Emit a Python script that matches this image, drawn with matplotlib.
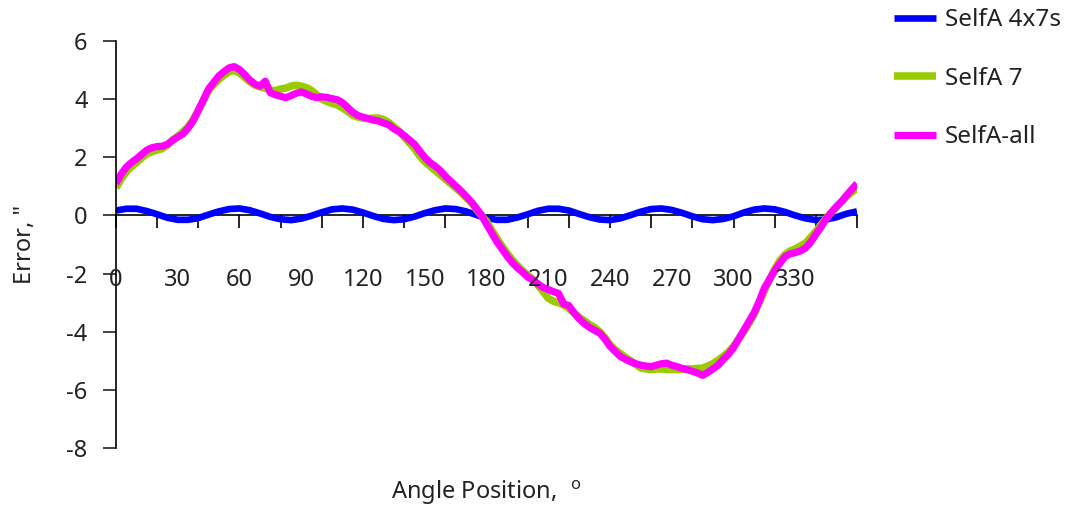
import matplotlib
matplotlib.use("Agg")
import matplotlib.pyplot as plt

plt.rcParams['font.family'] = ['Noto Sans', 'DejaVu Sans']

# Angle positions (degrees)
angle_coarse = [5 * i for i in range(73)]      # 0 .. 360 step 5
angle_fine = [2.5 * i for i in range(145)]     # 0 .. 360 step 2.5

# Error, arcsec
selfa_4x7s = [0.17, 0.23, 0.23, 0.15, 0.04, -0.08, -0.15, -0.15, -0.09, 0.03,
              0.14, 0.22, 0.24, 0.18, 0.07, -0.05, -0.13, -0.16, -0.11, -0.01,
              0.11, 0.21, 0.24, 0.20, 0.10, -0.02, -0.12, -0.16, -0.13, -0.04,
              0.08, 0.18, 0.24, 0.22, 0.14, 0.02, -0.09, -0.15, -0.15, -0.07,
              0.04, 0.16, 0.23, 0.23, 0.17, 0.05, -0.06, -0.14, -0.16, -0.10,
              0.01, 0.13, 0.22, 0.24, 0.19, 0.09, -0.03, -0.13, -0.16, -0.12,
              -0.03, 0.10, 0.20, 0.24, 0.21, 0.12, 0.00, -0.10, -0.16, -0.14,
              -0.06, 0.06, 0.14]

selfa_7 = [0.95, 1.25, 1.50, 1.68, 1.82, 1.98, 2.12, 2.20, 2.25, 2.30,
           2.42, 2.60, 2.72, 2.88, 3.05, 3.30, 3.60, 3.95, 4.30, 4.50,
           4.68, 4.82, 4.95, 4.98, 4.90, 4.75, 4.60, 4.48, 4.42, 4.38,
           4.30, 4.30, 4.35, 4.38, 4.45, 4.48, 4.45, 4.40, 4.30, 4.15,
           4.00, 3.92, 3.85, 3.80, 3.70, 3.58, 3.45, 3.38, 3.35, 3.33,
           3.35, 3.35, 3.30, 3.20, 3.05, 2.90, 2.70, 2.50, 2.30, 2.05,
           1.85, 1.70, 1.55, 1.40, 1.25, 1.10, 0.95, 0.80, 0.62, 0.45,
           0.22, 0.00, -0.20, -0.50, -0.78, -1.05, -1.30, -1.52, -1.72, -1.90,
           -2.05, -2.20, -2.40, -2.62, -2.85, -2.95, -3.00, -3.08, -3.20, -3.35,
           -3.50, -3.62, -3.75, -3.85, -4.00, -4.20, -4.45, -4.62, -4.75, -4.88,
           -5.00, -5.12, -5.25, -5.28, -5.30, -5.28, -5.28, -5.30, -5.30, -5.30,
           -5.30, -5.28, -5.28, -5.26, -5.25, -5.18, -5.10, -4.98, -4.85, -4.70,
           -4.50, -4.25, -4.00, -3.72, -3.40, -3.00, -2.60, -2.20, -1.85, -1.55,
           -1.35, -1.22, -1.15, -1.05, -0.95, -0.75, -0.55, -0.32, -0.10, 0.10,
           0.30, 0.48, 0.65, 0.80, 0.95]

selfa_all = [1.10, 1.42, 1.66, 1.82, 1.95, 2.10, 2.25, 2.33, 2.37, 2.38,
             2.45, 2.58, 2.70, 2.80, 3.00, 3.25, 3.62, 3.98, 4.35, 4.58,
             4.80, 4.95, 5.08, 5.12, 5.02, 4.85, 4.66, 4.52, 4.45, 4.62,
             4.22, 4.15, 4.10, 4.05, 4.12, 4.20, 4.25, 4.18, 4.10, 4.05,
             4.08, 4.06, 4.02, 3.98, 3.88, 3.72, 3.55, 3.44, 3.38, 3.33,
             3.28, 3.25, 3.18, 3.12, 2.98, 2.88, 2.75, 2.60, 2.45, 2.22,
             2.00, 1.82, 1.70, 1.55, 1.35, 1.18, 1.02, 0.85, 0.67, 0.48,
             0.25, 0.02, -0.30, -0.60, -0.90, -1.15, -1.40, -1.62, -1.80, -1.95,
             -2.12, -2.22, -2.35, -2.48, -2.55, -2.62, -2.68, -3.05, -3.10, -3.35,
             -3.55, -3.72, -3.85, -3.95, -4.05, -4.25, -4.50, -4.68, -4.85, -4.95,
             -5.03, -5.10, -5.15, -5.18, -5.20, -5.15, -5.10, -5.08, -5.15, -5.20,
             -5.26, -5.30, -5.36, -5.42, -5.50, -5.40, -5.28, -5.15, -4.95, -4.78,
             -4.55, -4.25, -3.95, -3.65, -3.35, -2.95, -2.50, -2.20, -1.90, -1.65,
             -1.42, -1.32, -1.28, -1.22, -1.12, -0.92, -0.65, -0.40, -0.12, 0.10,
             0.30, 0.48, 0.70, 0.90, 1.10]

series_names = ["SelfA 4x7s", "SelfA 7", "SelfA-all"]
series_colors = ["#0000FF", "#99CC00", "#FF00FF"]

x_tick_marks = list(range(0, 361, 20))
x_tick_labels = list(range(0, 331, 30))
y_ticks = list(range(-8, 7, 2))

text_color = '#222222'
fs = 17

fig = plt.figure(figsize=(10.67, 5.09), dpi=100)
ax = fig.add_axes([0.1087, 0.1198, 0.8032 - 0.1087, 0.9194 - 0.1198])

lines = []
for xs, vals, name, col, lw in zip([angle_coarse, angle_fine, angle_fine],
                                   [selfa_4x7s, selfa_7, selfa_all],
                                   series_names, series_colors, [4.8, 5.4, 5.2]):
    ln, = ax.plot(xs, vals, color=col, lw=lw, label=name,
                  solid_joinstyle='round', solid_capstyle='butt')
    lines.append(ln)

ax.set_xlim(0, 360)
ax.set_ylim(-8, 6)

for s in ['top', 'right']:
    ax.spines[s].set_visible(False)
ax.spines['bottom'].set_position(('data', 0))
ax.spines['bottom'].set_linewidth(1.2)
ax.spines['left'].set_linewidth(1.2)
ax.spines['bottom'].set_zorder(0.5)

ax.set_xticks(x_tick_marks)
ax.set_xticklabels([])
ax.tick_params(axis='x', direction='out', length=9.5, width=1.2)
ax.set_yticks(y_ticks)
ax.set_yticklabels([str(v) for v in y_ticks])
ax.tick_params(axis='y', direction='out', length=9.5, width=1.2, pad=11,
               labelsize=fs, colors=text_color, labelcolor=text_color)

for v in x_tick_labels:
    ax.text(v, -2.22, str(v), ha='center', va='center', fontsize=fs,
            color=text_color)

ax.text(-0.123, 0.5, 'Error, "', transform=ax.transAxes, rotation=90,
        ha='center', va='center', fontsize=fs, color=text_color)
ax.text(0.5, -0.11, 'Angle Position, $\\ ^{\\mathregular{o}}$', transform=ax.transAxes,
        ha='center', va='center', fontsize=fs, color=text_color)

fig.legend(handles=lines, loc='upper left', bbox_to_anchor=(0.817, 1.027),
           frameon=False, fontsize=17.5, handlelength=1.75, handletextpad=0.35,
           labelspacing=1.42, labelcolor=text_color)

fig.savefig("out.png", dpi=100)
